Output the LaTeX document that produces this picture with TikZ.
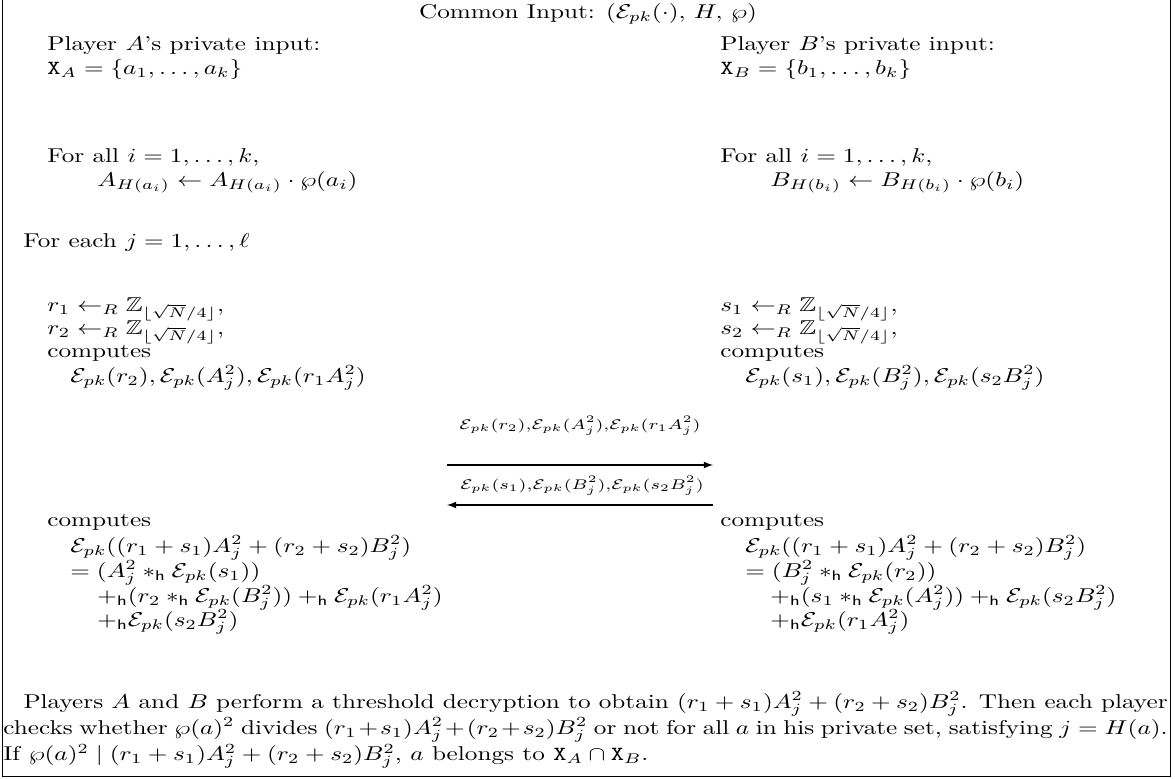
\documentclass[tikz,border=0pt]{standalone}
\usepackage{amsmath,amssymb,graphicx}
\newcommand{\Enc}{\mathcal{E}_{pk}}
\newcommand{\hsub}{\mathsf{h}}
\newcommand{\Zrange}{\mathbb{Z}_{\lfloor\sqrt{N}/4\rfloor}}
\newcommand{\wide}[1]{\scalebox{1.26}[1]{#1}}
\begin{document}
\begin{tikzpicture}[>=latex, x=0.5pt, y=0.5pt, txt/.style={anchor=base west, inner sep=0pt}, msg/.style={anchor=base, inner sep=0pt}]
\useasboundingbox (0,0) rectangle (1175,-778);
\draw[line width=0.5pt] (2,0) -- (2,-776) -- (1170,-776) -- (1170,0);
\node[anchor=base, inner sep=0pt] (common) at (588,-18) {\wide{Common Input: $(\Enc(\cdot),\, H,\, \wp)$}};
% player A
\node[txt] (inputA) at (47,-50) {\wide{Player $A$'s private input:}};
\node[txt] (setA) at (47,-74) {\wide{$\mathtt{X}_A=\{a_1,\dots,a_k\}$}};
\node[txt] (forallA) at (47,-162) {\wide{For all $i=1,\dots,k$,}};
\node[txt] (updateA) at (97,-186) {\wide{$A_{H(a_i)}\leftarrow A_{H(a_i)}\cdot\wp(a_i)$}};
% player B
\node[txt] (inputB) at (720,-50) {\wide{Player $B$'s private input:}};
\node[txt] (setB) at (720,-74) {\wide{$\mathtt{X}_B=\{b_1,\dots,b_k\}$}};
\node[txt] (forallB) at (720,-162) {\wide{For all $i=1,\dots,k$,}};
\node[txt] (updateB) at (770,-186) {\wide{$B_{H(b_i)}\leftarrow B_{H(b_i)}\cdot\wp(b_i)$}};
% loop
\node[txt] (foreach) at (23,-247) {\wide{For each $j=1,\dots,\ell$}};
\node[txt] (r1) at (47,-311) {\wide{$r_1\leftarrow_R\Zrange$,}};
\node[txt] (r2) at (47,-334) {\wide{$r_2\leftarrow_R\Zrange$,}};
\node[txt] (compA) at (47,-357) {\wide{computes}};
\node[txt] (encA) at (70,-382) {\wide{$\Enc(r_2),\Enc(A_j^2),\Enc(r_1A_j^2)$}};
\node[txt] (s1) at (720,-311) {\wide{$s_1\leftarrow_R\Zrange$,}};
\node[txt] (s2) at (720,-334) {\wide{$s_2\leftarrow_R\Zrange$,}};
\node[txt] (compB) at (720,-357) {\wide{computes}};
\node[txt] (encB) at (745,-382) {\wide{$\Enc(s_1),\Enc(B_j^2),\Enc(s_2B_j^2)$}};
% messages
\coordinate (sendA) at (447,-465);
\coordinate (recvB) at (713,-465);
\coordinate (sendB) at (713,-505);
\coordinate (recvA) at (447,-505);
\node[msg] (msgA) at (580,-429) {\wide{$\scriptstyle\Enc(r_2),\Enc(A_j^2),\Enc(r_1A_j^2)$}};
\node[msg] (msgB) at (582,-489) {\wide{$\scriptstyle\Enc(s_1),\Enc(B_j^2),\Enc(s_2B_j^2)$}};
\draw[->, line width=0.6pt] (sendA) -- (recvB);
\draw[->, line width=0.6pt] (sendB) -- (recvA);
% combine A
\node[txt] (combA) at (47,-526) {\wide{computes}};
\node[txt] (sumA) at (70,-552) {\wide{$\Enc((r_1+s_1)A_j^2+(r_2+s_2)B_j^2)$}};
\node[txt] (eqA) at (70,-577) {\wide{$=(A_j^2\ast_\hsub\Enc(s_1))$}};
\node[txt] (addA) at (97,-602) {\wide{$+_\hsub(r_2\ast_\hsub\Enc(B_j^2))+_\hsub\Enc(r_1A_j^2)$}};
\node[txt] (lastA) at (97,-626) {\wide{$+_\hsub\Enc(s_2B_j^2)$}};
% combine B
\node[txt] (combB) at (720,-526) {\wide{computes}};
\node[txt] (sumB) at (745,-552) {\wide{$\Enc((r_1+s_1)A_j^2+(r_2+s_2)B_j^2)$}};
\node[txt] (eqB) at (745,-577) {\wide{$=(B_j^2\ast_\hsub\Enc(r_2))$}};
\node[txt] (addB) at (770,-602) {\wide{$+_\hsub(s_1\ast_\hsub\Enc(A_j^2))+_\hsub\Enc(s_2B_j^2)$}};
\node[txt] (lastB) at (770,-626) {\wide{$+_\hsub\Enc(r_1A_j^2)$}};
% decryption
\node[txt] (decrypt) at (3,-708) {\wide{\parbox[t]{462pt}{\hspace*{8pt}Players $A$ and $B$ perform a threshold decryption to obtain $(r_1+s_1)A_j^2+(r_2+s_2)B_j^2$. Then each player\linebreak checks whether $\wp(a)^2$ divides $(r_1+s_1)A_j^2+(r_2+s_2)B_j^2$ or not for all $a$ in his private set, satisfying $j=H(a)$.\linebreak If $\wp(a)^2\mid(r_1+s_1)A_j^2+(r_2+s_2)B_j^2$, $a$ belongs to $\mathtt{X}_A\cap\mathtt{X}_B$.}}};
\end{tikzpicture}
\end{document}
